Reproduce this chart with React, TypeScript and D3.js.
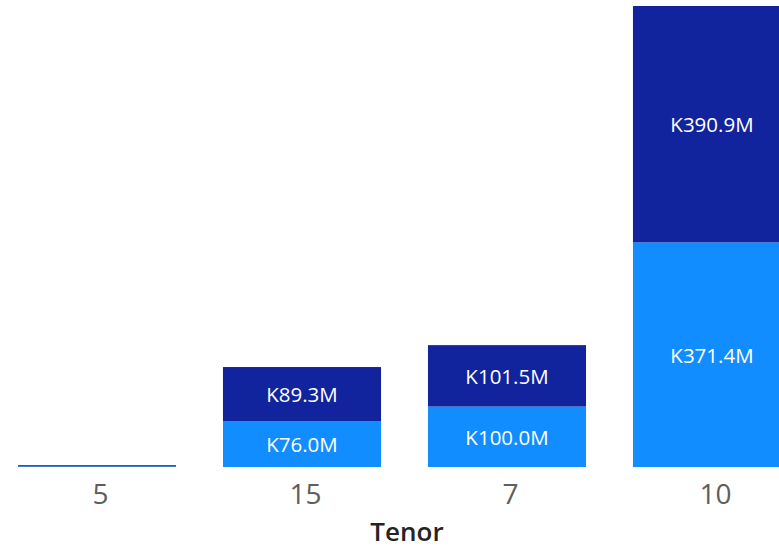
import React from "react";
import * as d3 from "d3";

const categories = ["5", "15", "7", "10"];
const bottomValues = [1.0, 76.0, 100.0, 371.4];
const topValues = [2.0, 89.3, 101.5, 390.9];
const bottomLabels = ["", "K76.0M", "K100.0M", "K371.4M"];
const topLabels = ["", "K89.3M", "K101.5M", "K390.9M"];
const axisTitle = "Tenor";

const W = 779;
const H = 546;

export default function App() {
  const x = d3
    .scaleBand<string>()
    .domain(categories)
    .range([-5.5, 814.5])
    .paddingInner(0.229)
    .paddingOuter(0.1146);
  const y = d3.scaleLinear().domain([0, 762.3]).range([467, 6]);

  const font = "'Segoe UI', 'Open Sans', 'Noto Sans', sans-serif";

  return (
    <svg
      width={W}
      height={H}
      style={{ position: "absolute", left: 0, top: 0, background: "#fff" }}
    >
      <defs>
        <clipPath id="clip">
          <rect x={0} y={0} width={W} height={H} />
        </clipPath>
      </defs>
      <g clipPath="url(#clip)">
        {categories.map((c, i) => {
          const b = bottomValues[i];
          const t = topValues[i];
          const x0 = x(c)!;
          const bw = x.bandwidth();
          const yb = y(b);
          const yt = y(b + t);
          return (
            <g key={c}>
              <rect x={x0} y={yb} width={bw} height={y(0) - yb} fill="#118DFF" />
              <rect x={x0} y={yt} width={bw} height={yb - yt} fill="#12239E" />
              {bottomLabels[i] && (
                <text
                  x={x0 + bw / 2}
                  y={(y(0) + yb) / 2 + 1}
                  dy="0.35em"
                  textAnchor="middle"
                  fill="#fff"
                  fontFamily={font}
                  fontSize={20.5}
                >
                  {bottomLabels[i]}
                </text>
              )}
              {topLabels[i] && (
                <text
                  x={x0 + bw / 2}
                  y={(yb + yt) / 2 + 1}
                  dy="0.35em"
                  textAnchor="middle"
                  fill="#fff"
                  fontFamily={font}
                  fontSize={20.5}
                >
                  {topLabels[i]}
                </text>
              )}
              <text
                x={x0 + bw / 2 + 3.5}
                y={494}
                dy="0.35em"
                textAnchor="middle"
                fill="#605E5C"
                fontFamily={font}
                fontSize={28}
              >
                {c}
              </text>
            </g>
          );
        })}
        <text
          x={407}
          y={531.5}
          dy="0.35em"
          textAnchor="middle"
          fill="#252423"
          fontFamily={font}
          fontSize={26}
          fontWeight={600}
        >
          {axisTitle}
        </text>
      </g>
    </svg>
  );
}
